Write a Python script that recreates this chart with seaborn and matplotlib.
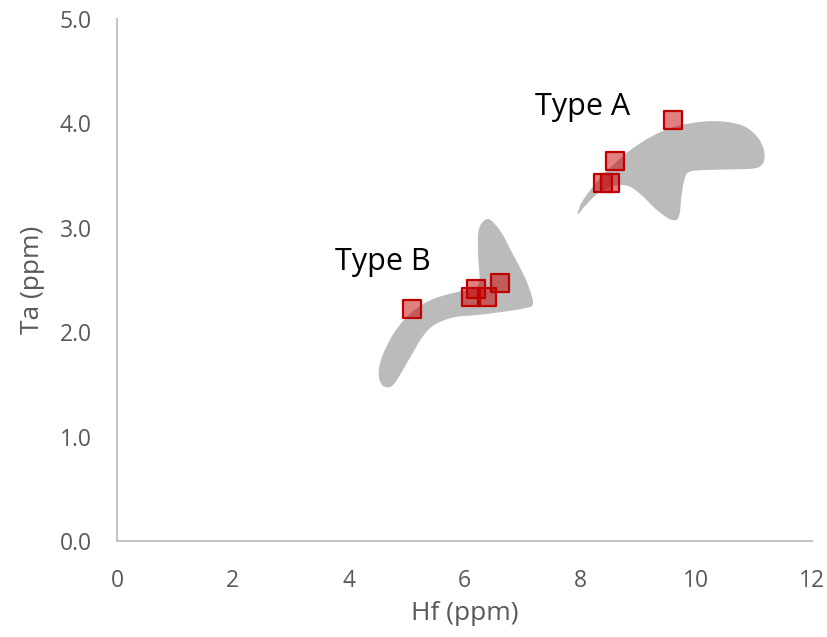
import numpy as np
import pandas as pd
import seaborn as sns
import matplotlib
matplotlib.use("Agg")
import matplotlib.pyplot as plt
from matplotlib.path import Path
from matplotlib.patches import PathPatch

# Sample analyses (ppm)
hf = [5.1, 6.12, 6.20, 6.39, 6.61, 8.40, 8.52, 8.61, 9.61]
ta = [2.22, 2.34, 2.41, 2.34, 2.47, 3.43, 3.43, 3.64, 4.03]

# Compositional fields (outline vertices in Hf, Ta)
field_a_hf = [7.96, 8.02, 8.22, 8.48, 8.83, 9.23, 9.63, 10.10, 10.50, 10.85,
              11.08, 11.18, 11.16, 11.02, 10.67, 10.21, 9.89, 9.80, 9.75, 9.72,
              9.66, 9.52, 9.29, 9.06, 8.83, 8.57, 8.31, 8.10]
field_a_ta = [3.13, 3.235, 3.394, 3.554, 3.729, 3.873, 3.968, 4.016, 4.016, 3.968,
              3.857, 3.729, 3.618, 3.570, 3.560, 3.554, 3.537, 3.458, 3.298, 3.139,
              3.075, 3.091, 3.187, 3.314, 3.400, 3.400, 3.330, 3.218]
field_b_hf = [6.43, 6.63, 6.83, 7.04, 7.16, 7.18, 7.04, 6.69, 6.23, 5.82, 5.48,
              5.28, 5.07, 4.87, 4.73, 4.58, 4.52, 4.58, 4.78, 5.07, 5.42, 5.82,
              6.17, 6.26, 6.24, 6.24, 6.30]
field_b_ta = [3.081, 2.963, 2.756, 2.532, 2.356, 2.261, 2.229, 2.197, 2.165, 2.143,
              2.069, 1.957, 1.765, 1.574, 1.478, 1.494, 1.606, 1.765, 1.989, 2.181,
              2.308, 2.378, 2.421, 2.500, 2.723, 2.947, 3.043]

field_labels = ["Type A", "Type B"]
label_hf = [8.05, 4.59]
label_ta = [4.08, 2.60]

x_ticks = [0, 2, 4, 6, 8, 10, 12]
y_ticks = [0.0, 1.0, 2.0, 3.0, 4.0, 5.0]

sns.set_theme(style="white")
plt.rcParams["font.family"] = ["Open Sans", "DejaVu Sans"]

fig = plt.figure(figsize=(8.28, 6.37), dpi=100)
ax = fig.add_axes([0.1413, 0.1507, 0.8390, 0.8195])


def smooth_closed_path(xs, ys):
    """Closed Catmull-Rom outline expressed as cubic Bezier segments."""
    pts = np.column_stack([xs, ys])
    n = len(pts)
    verts = [pts[0]]
    codes = [Path.MOVETO]
    for i in range(n):
        p0, p1, p2, p3 = pts[i - 1], pts[i], pts[(i + 1) % n], pts[(i + 2) % n]
        c1 = p1 + (p2 - p0) / 6.0
        c2 = p2 - (p3 - p1) / 6.0
        verts += [c1, c2, p2]
        codes += [Path.CURVE4] * 3
    verts.append(pts[0])
    codes.append(Path.CLOSEPOLY)
    return Path(verts, codes)


for fx, fy in [(field_a_hf, field_a_ta), (field_b_hf, field_b_ta)]:
    ax.add_patch(PathPatch(smooth_closed_path(fx, fy), facecolor="#BBBBBB",
                           edgecolor="none", zorder=1))

df = pd.DataFrame({"Hf": hf, "Ta": ta})
sns.scatterplot(data=df, x="Hf", y="Ta", marker="s", s=150, color="#C00000",
                edgecolor="#C00000", linewidth=1.6, ax=ax, zorder=3)
ax.collections[-1].set_facecolor((0.78, 0.0, 0.0, 0.5))

for lab, lx, ly in zip(field_labels, label_hf, label_ta):
    ax.text(lx, ly, lab, fontsize=22, color="#000000", ha="center", va="baseline")

ax.set_xlim(0, 12)
ax.set_ylim(0, 5)
ax.set_xticks(x_ticks)
ax.set_xticklabels([str(t) for t in x_ticks])
ax.set_yticks(y_ticks)
ax.set_yticklabels([f"{t:.1f}" for t in y_ticks])

for side in ["top", "right"]:
    ax.spines[side].set_visible(False)
for side in ["left", "bottom"]:
    ax.spines[side].set_color("#BFBFBF")
    ax.spines[side].set_linewidth(1.3)

ax.tick_params(axis="both", direction="out", length=7, width=1.3, color="#BFBFBF",
               labelcolor="#595959", labelsize=16.5)
ax.tick_params(axis="x", pad=13)
ax.tick_params(axis="y", pad=11)

ax.set_xlabel("Hf (ppm)", fontsize=19, color="#595959", labelpad=6)
ax.set_ylabel("Ta (ppm)", fontsize=19, color="#595959", labelpad=11)

fig.savefig("out.png", dpi=100)
